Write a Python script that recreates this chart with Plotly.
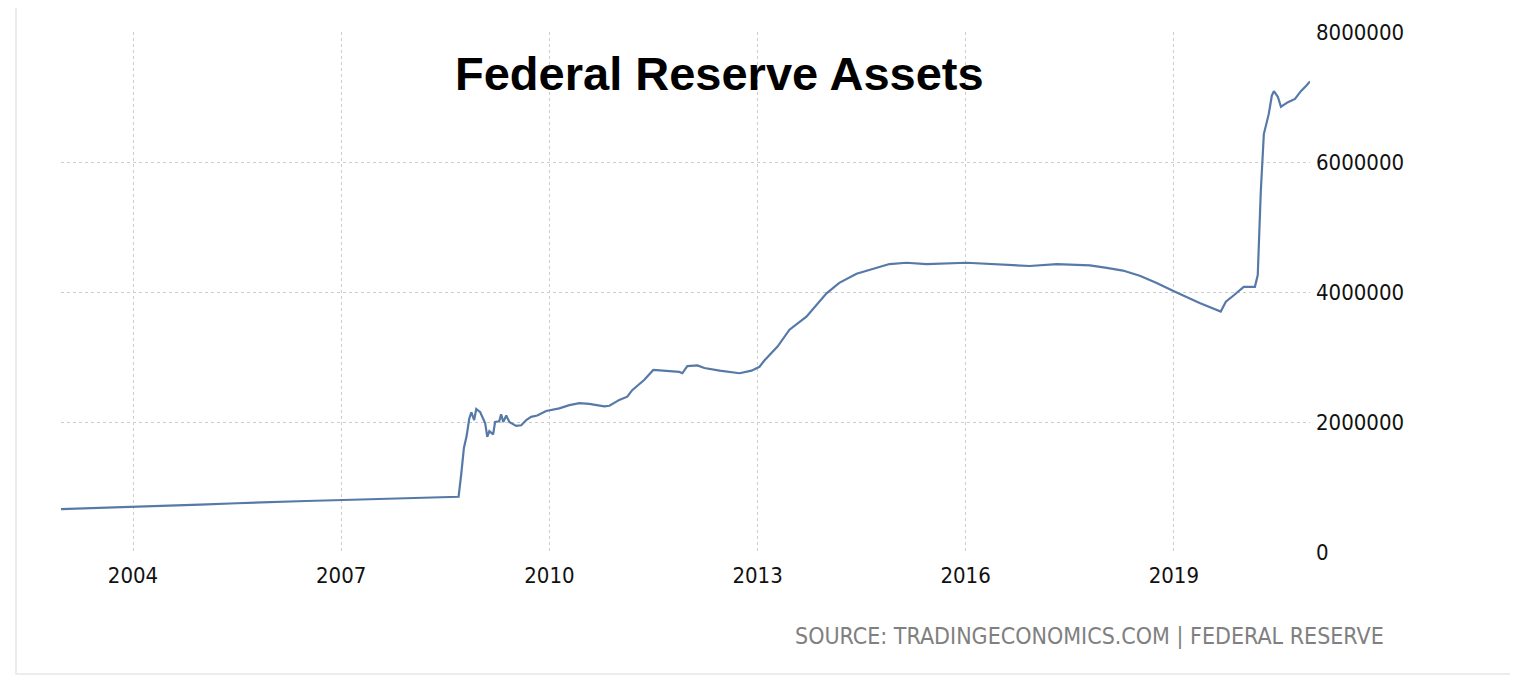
import plotly.graph_objects as go

dates = [
    "2002-12-18", "2003-06-15", "2004-01-01", "2004-06-30", "2004-12-19", "2005-06-30",
    "2005-12-28", "2006-06-30", "2007-01-11", "2007-06-30", "2007-12-30", "2008-06-15",
    "2008-09-10", "2008-09-24", "2008-10-08", "2008-10-22", "2008-11-05", "2008-11-16",
    "2008-12-01", "2008-12-12", "2009-01-02", "2009-01-28", "2009-02-08", "2009-02-19",
    "2009-03-11", "2009-03-21", "2009-04-12", "2009-04-22", "2009-05-03", "2009-05-19",
    "2009-06-04", "2009-07-10", "2009-08-06", "2009-09-01", "2009-09-27", "2009-10-29",
    "2009-12-15", "2010-02-22", "2010-04-16", "2010-06-08", "2010-07-30", "2010-10-17",
    "2010-11-13", "2011-01-04", "2011-02-15", "2011-03-13", "2011-05-16", "2011-07-02",
    "2011-08-29", "2011-11-16", "2011-12-02", "2011-12-28", "2012-02-19", "2012-03-27",
    "2012-06-15", "2012-09-28", "2012-11-30", "2013-01-11", "2013-02-07", "2013-03-15",
    "2013-04-16", "2013-06-18", "2013-09-15", "2013-12-30", "2014-03-07", "2014-06-06",
    "2014-09-19", "2014-11-26", "2015-02-24", "2015-06-09", "2016-01-06", "2016-08-04",
    "2016-12-03", "2017-04-25", "2017-10-16", "2018-01-13", "2018-04-08", "2018-07-06",
    "2018-10-03", "2018-12-27", "2019-02-17", "2019-05-17", "2019-09-05", "2019-10-02",
    "2019-11-13", "2020-01-04", "2020-03-03", "2020-03-18", "2020-04-03", "2020-04-19",
    "2020-05-15", "2020-05-31", "2020-06-11", "2020-07-02", "2020-07-18", "2020-08-24",
    "2020-09-30", "2020-10-31", "2020-11-27", "2020-12-18",
]

assets = [
    660000, 675000, 690000, 710000, 730000, 750000,
    770000, 785000, 800000, 815000, 830000, 845000,
    850000, 1200000, 1600000, 1780000, 2050000, 2150000,
    2030000, 2200000, 2150000, 1980000, 1770000, 1860000,
    1810000, 2000000, 2010000, 2120000, 2000000, 2100000,
    2000000, 1940000, 1950000, 2030000, 2080000, 2100000,
    2170000, 2210000, 2260000, 2290000, 2280000, 2240000,
    2250000, 2340000, 2390000, 2490000, 2650000, 2800000,
    2790000, 2770000, 2750000, 2860000, 2870000, 2830000,
    2790000, 2750000, 2790000, 2850000, 2950000, 3060000,
    3160000, 3420000, 3620000, 3980000, 4140000, 4280000,
    4370000, 4430000, 4450000, 4430000, 4450000, 4420000,
    4400000, 4430000, 4410000, 4370000, 4330000, 4250000,
    4140000, 4020000, 3950000, 3830000, 3700000, 3850000,
    3950000, 4080000, 4080000, 4260000, 5550000, 6430000,
    6740000, 7020000, 7090000, 7000000, 6850000, 6920000,
    6970000, 7090000, 7170000, 7240000,
]

y_ticks = [0, 2000000, 4000000, 6000000, 8000000]
x_tick_years = ["2004", "2007", "2010", "2013", "2016", "2019"]

title_text = "Federal Reserve Assets"
source_text = "SOURCE: TRADINGECONOMICS.COM | FEDERAL RESERVE"

label_font = "DejaVu Sans Condensed, Liberation Sans Narrow, DejaVu Sans, sans-serif"

fig = go.Figure()
fig.add_trace(go.Scatter(
    x=dates, y=assets, mode="lines",
    line=dict(color="#5679a8", width=2.2),
    hoverinfo="x+y", showlegend=False,
))

OFF = 8  # page body margin
W, H = 1518 - OFF, 690 - OFF
L, T = 61 - OFF, 32 - OFF
R = W - (1310 - OFF)
B = H - (552 - OFF)
pw, ph = W - L - R, H - T - B

def px(x):
    return (x - OFF - L) / pw

def py(y):
    return (H - B - (y - OFF)) / ph

fig.update_layout(
    width=W, height=H,
    margin=dict(l=L, r=R, t=T, b=B, pad=0),
    paper_bgcolor="white", plot_bgcolor="white",
    xaxis=dict(
        type="date",
        range=[dates[0], dates[-1]],
        tickvals=[y + "-01-01" for y in x_tick_years],
        ticktext=x_tick_years,
        showgrid=True, gridcolor="#cccccc", griddash="dot", gridwidth=1,
        showline=False, zeroline=False, ticks="",
        tickfont=dict(family=label_font, size=22, color="#111111"),
        ticklabelstandoff=8,
    ),
    yaxis=dict(
        side="right",
        range=[0, 8000000],
        tickvals=y_ticks,
        ticktext=[str(v) for v in y_ticks],
        showgrid=True, gridcolor="#cccccc", griddash="dot", gridwidth=1,
        showline=False, zeroline=False, ticks="",
        tickfont=dict(family=label_font, size=22, color="#111111"),
        ticklabelstandoff=5,
    ),
    annotations=[
        dict(text=title_text, xref="paper", yref="paper",
             x=px(719), y=py(73), xanchor="center", yanchor="middle",
             showarrow=False,
             font=dict(family="Liberation Sans, Arial, Helvetica, sans-serif",
                       size=47, color="#000000", weight="bold")),
        dict(text=source_text, xref="paper", yref="paper",
             x=px(1386), y=py(636), xanchor="right", yanchor="middle",
             showarrow=False,
             font=dict(family=label_font, size=23, color="#808080")),
    ],
    shapes=[
        dict(type="rect", xref="paper", yref="paper",
             x0=px(16), x1=px(1513), y0=py(674), y1=py(-10),
             line=dict(color="#ececec", width=2), fillcolor="rgba(0,0,0,0)",
             layer="below"),
    ],
)

fig.write_html("out.html", config={"displayModeBar": False})
